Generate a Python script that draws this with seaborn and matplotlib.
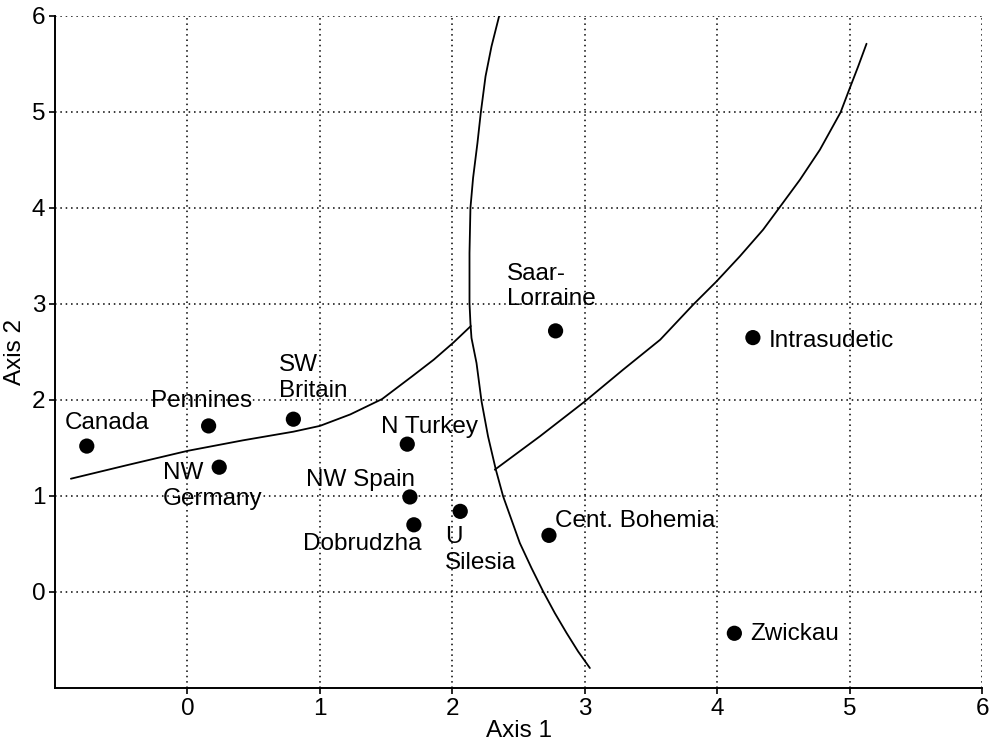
import numpy as np
import pandas as pd
import matplotlib
matplotlib.use("Agg")
import matplotlib.pyplot as plt
import seaborn as sns

# Coal basins on the first two ordination axes
regions = ["Canada", "Pennines", "NW\nGermany", "SW\nBritain", "N Turkey",
           "NW Spain", "Dobrudzha", "U\nSilesia", "Saar-\nLorraine",
           "Cent. Bohemia", "Intrasudetic", "Zwickau"]
axis1 = [-0.76, 0.16, 0.24, 0.80, 1.66, 1.68, 1.71, 2.06, 2.78, 2.73, 4.27, 4.13]
axis2 = [1.52, 1.73, 1.30, 1.80, 1.54, 0.99, 0.70, 0.84, 2.72, 0.59, 2.65, -0.43]

# Hand-drawn group boundaries
left_x = [-0.88, -0.46, 0.00, 0.42, 0.80, 1.00, 1.23, 1.47, 1.70, 1.86, 2.01, 2.14]
left_y = [1.18, 1.32, 1.47, 1.58, 1.67, 1.73, 1.85, 2.01, 2.25, 2.42, 2.60, 2.77]

mid_x = [2.353, 2.296, 2.251, 2.215, 2.190, 2.157, 2.137, 2.130, 2.130, 2.137,
         2.145, 2.183, 2.221, 2.270, 2.329, 2.384, 2.447, 2.510, 2.598, 2.686,
         2.774, 2.863, 2.950, 3.039]
mid_y = [5.995, 5.683, 5.371, 4.990, 4.677, 4.313, 4.000, 3.531, 3.010, 2.802,
         2.646, 2.385, 1.985, 1.621, 1.274, 0.996, 0.753, 0.510, 0.250, 0.006,
         -0.219, -0.427, -0.619, -0.792]

right_x = [2.321, 2.661, 3.001, 3.290, 3.570, 3.819, 3.995, 4.171, 4.347, 4.468,
           4.625, 4.776, 4.932, 5.002, 5.065, 5.128]
right_y = [1.274, 1.621, 1.985, 2.316, 2.628, 2.993, 3.235, 3.496, 3.774, 4.000,
           4.294, 4.607, 4.996, 5.250, 5.475, 5.711]

df = pd.DataFrame({"Region": regions, "Axis 1": axis1, "Axis 2": axis2})

# label placement: offset in points from the marker, alignment
label_pos = {
    "Canada": (-15.6, 12.0, "left", "baseline"),
    "Pennines": (-41.3, 13.4, "left", "baseline"),
    "NW\nGermany": (-40.3, 3.4, "left", "top"),
    "SW\nBritain": (-10.1, 46.8, "left", "top"),
    "N Turkey": (-18.9, 8.2, "left", "baseline"),
    "NW Spain": (3.4, 8.2, "right", "baseline"),
    "Dobrudzha": (5.3, -18.0, "right", "baseline"),
    "U\nSilesia": (-10.8, -10.8, "left", "top"),
    "Saar-\nLorraine": (-35.0, 49.0, "left", "top"),
    "Cent. Bohemia": (4.1, 6.3, "left", "baseline"),
    "Intrasudetic": (11.7, -7.0, "left", "baseline"),
    "Zwickau": (11.8, -4.8, "left", "baseline"),
}

sns.set_style("white")
plt.rcParams["font.family"] = ["Liberation Sans", "DejaVu Sans"]
plt.rcParams["text.color"] = "black"
plt.rcParams["axes.labelcolor"] = "black"
plt.rcParams["xtick.color"] = "black"
plt.rcParams["ytick.color"] = "black"
fs = 17.5

fig = plt.figure(figsize=(9.97, 7.47), dpi=100)
ax = fig.add_axes([55 / 997, 1 - 688 / 747, 927 / 997, 672 / 747])

for xs, ys in [(left_x, left_y), (mid_x, mid_y), (right_x, right_y)]:
    sns.lineplot(x=xs, y=ys, sort=False, estimator=None, color="black",
                 linewidth=1.3, ax=ax)

sns.scatterplot(data=df, x="Axis 1", y="Axis 2", color="black", s=120,
                edgecolor="none", ax=ax, zorder=3)

for name, x, y in zip(regions, axis1, axis2):
    dx, dy, ha, va = label_pos[name]
    ax.annotate(name, (x, y), xytext=(dx, dy), textcoords="offset points",
                ha=ha, va=va, fontsize=fs, linespacing=1.2, color="black")

ax.set_xlim(-1, 6)
ax.set_ylim(-1, 6)
ax.set_xticks(range(0, 7))
ax.set_yticks(range(0, 7))
ax.grid(True, color="black", linestyle=(0, (1, 2.5)), linewidth=1.1)
ax.set_axisbelow(True)
sns.despine(ax=ax)
for s in ["left", "bottom"]:
    ax.spines[s].set_linewidth(1.4)
    ax.spines[s].set_color("black")
ax.tick_params(axis="both", direction="out", length=4, width=1.2,
               color="black", labelsize=fs, pad=3, bottom=True, left=True)
ax.set_xlabel("Axis 1", fontsize=fs, labelpad=0)
ax.set_ylabel("Axis 2", fontsize=fs, labelpad=4)

fig.savefig("out.png", dpi=100)
